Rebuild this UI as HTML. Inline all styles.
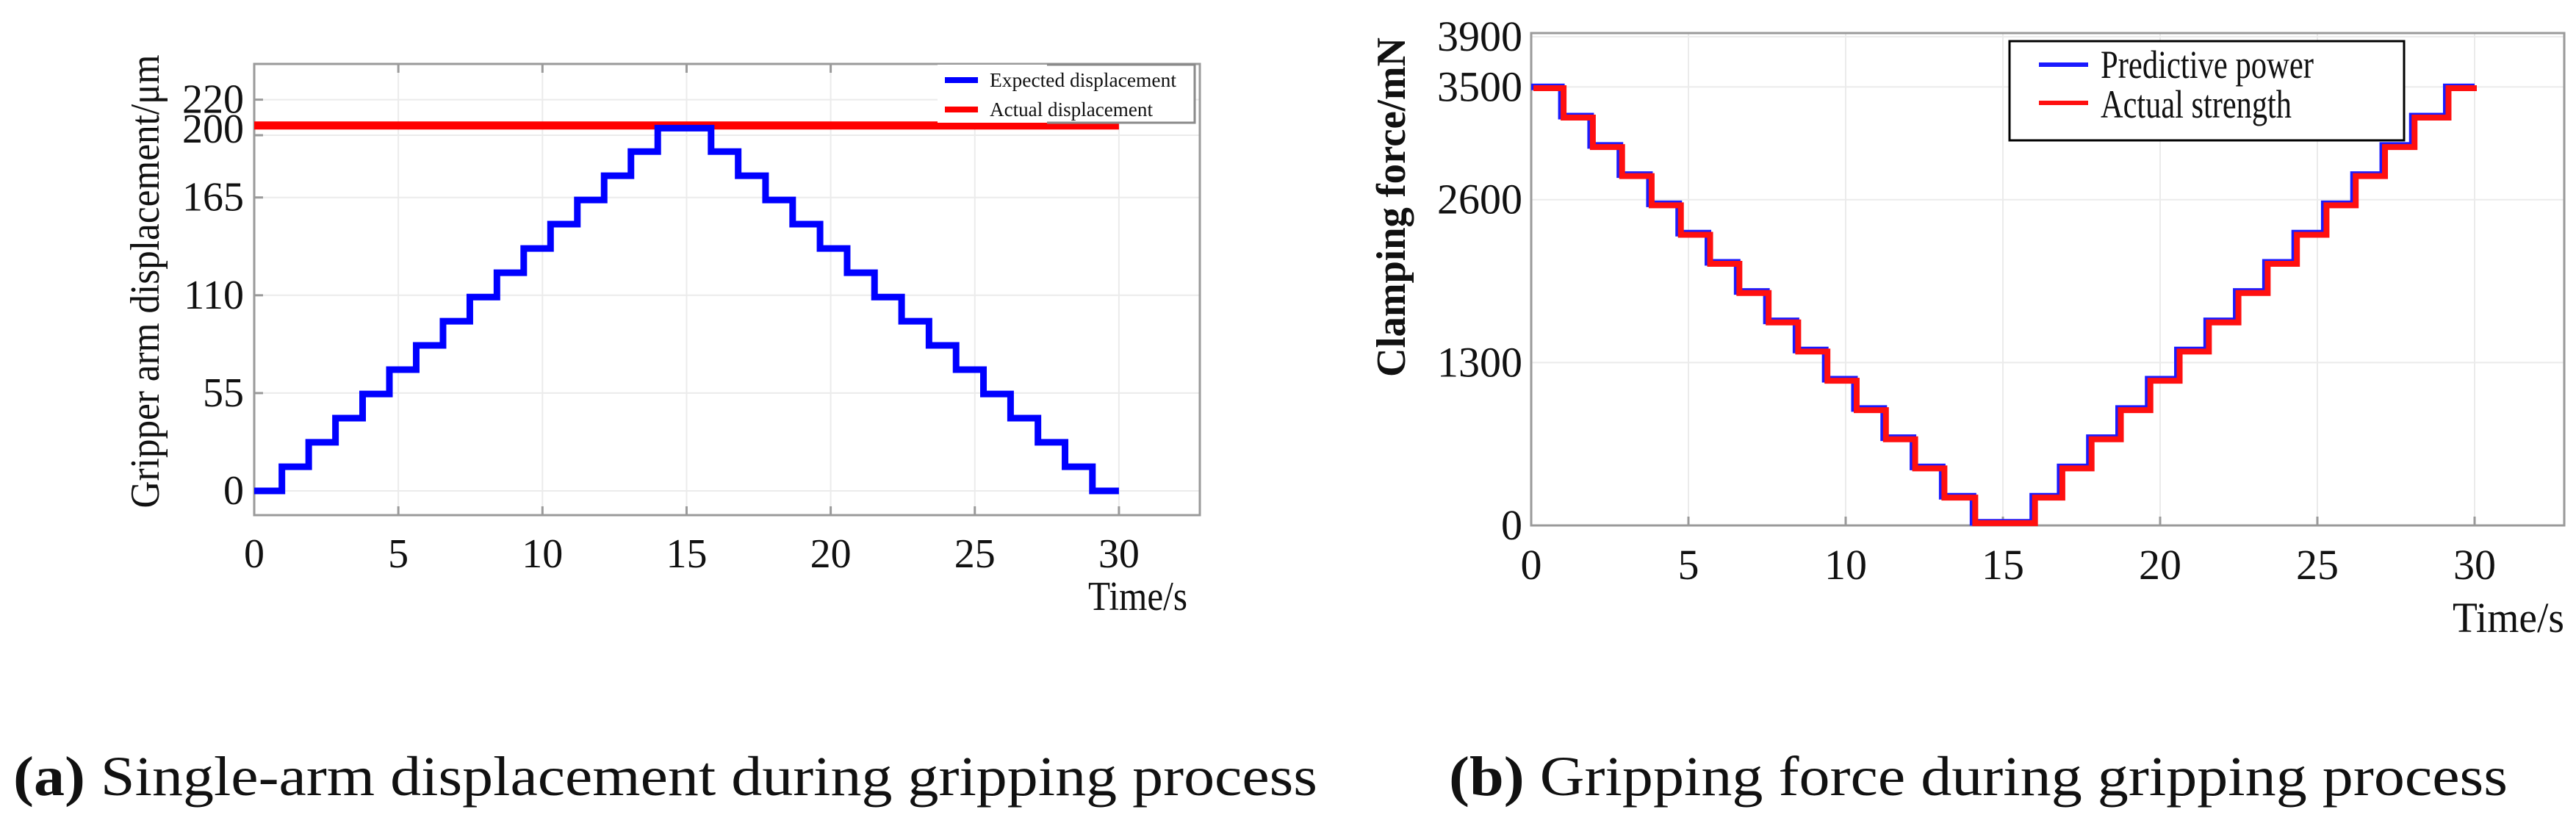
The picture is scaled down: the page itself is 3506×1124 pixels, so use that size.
<!DOCTYPE html>
<html><head><meta charset="utf-8"><style>
html,body{margin:0;padding:0;background:#fff;}
svg{display:block;}
text{font-family:"Liberation Serif",serif;fill:#111;}
</style></head><body>
<svg id="fig" width="3506" height="1124" viewBox="0 0 3506 1124" xmlns="http://www.w3.org/2000/svg">
<rect x="0" y="0" width="3506" height="1124" fill="#fff"/>
<g id="chartA"></g>
<g id="chartB"></g>
<text x="18" y="1082" font-size="76" textLength="1775" lengthAdjust="spacingAndGlyphs"><tspan font-weight="bold">(a)</tspan> Single-arm displacement during gripping process</text>
<text x="1972" y="1082" font-size="76" textLength="1441" lengthAdjust="spacingAndGlyphs"><tspan font-weight="bold">(b)</tspan> Gripping force during gripping process</text>
</svg>
<script>
// ---- data: chart (a) ----
const aTimes = [0,0.96,1.89,2.82,3.76,4.69,5.62,6.55,7.48,8.42,9.35,10.28,11.21,12.14,13.07,14.0,15.85,16.79,17.74,18.68,19.63,20.57,21.52,22.46,23.41,24.35,25.3,26.24,27.19,28.13,29.08,30];
const aExpected = [0,13.6,27.3,40.9,54.5,68.2,81.8,95.4,109,122.7,136.3,150,163.6,177.2,190.8,204,190.8,177.2,163.6,150,136.3,122.7,109,95.4,81.8,68.2,54.5,40.9,27.3,13.6,0];
const aActualTimes = [0,30];
const aActual = [205.5,205.5];
const aYTicks = [0,55,110,165,200,220];
const aXTicks = [0,5,10,15,20,25,30];
// ---- data: chart (b) ----
const bTimes = [0,0.96,1.89,2.82,3.76,4.69,5.62,6.55,7.48,8.42,9.35,10.28,11.21,12.14,13.07,14.05,15.95,16.82,17.75,18.68,19.62,20.55,21.48,22.42,23.35,24.28,25.22,26.15,27.08,28.02,29.1,30];
const bPredicted = [3500,3267,3033,2800,2567,2333,2100,1867,1633,1400,1167,933,700,467,233,25,233,467,700,933,1167,1400,1633,1867,2100,2333,2567,2800,3033,3267,3500];
const bActual = [3490,3255,3020,2788,2555,2320,2088,1855,1620,1388,1155,920,688,455,222,18,222,455,688,920,1155,1388,1620,1855,2088,2320,2555,2788,3020,3255,3490];
const bYTicks = [0,1300,2600,3500,3900];
const bXTicks = [0,5,10,15,20,25,30];

const NS = "http://www.w3.org/2000/svg";
function mk(parent, tag, attrs, txt){
  const e = document.createElementNS(NS, tag);
  for (const k in attrs) e.setAttribute(k, attrs[k]);
  if (txt !== undefined) e.textContent = txt;
  parent.appendChild(e);
  return e;
}
function stepPath(times, vals, X, Y){
  let d = "M" + X(times[0]) + "," + Y(vals[0]);
  for (let i = 0; i < vals.length; i++){
    d += " H" + X(times[i+1]);
    if (i+1 < vals.length) d += " V" + Y(vals[i+1]);
  }
  return d;
}

// ===== Chart A =====
(function(){
  const g = document.getElementById('chartA');
  const L=346, R=1633, T=87, B=701;
  const X = t => L + t*39.23;
  const Y = v => 668 - v*2.42;
  aXTicks.forEach(t=>{
    const l = mk(g,'line',{x1:X(t),x2:X(t),y1:T,y2:B,stroke:'#ebebeb','stroke-width':2});
    
    
  });
  aYTicks.forEach(v=>{
    const l = mk(g,'line',{x1:L,x2:R,y1:Y(v),y2:Y(v),stroke:'#ebebeb','stroke-width':2});
    
    
  });
  const fr = mk(g,'rect',{x:L,y:T,width:R-L,height:B-T,fill:'none',stroke:'#9a9a9a','stroke-width':3});
  
  
  aXTicks.forEach(t=>{
    mk(g,'line',{x1:X(t),x2:X(t),y1:B,y2:B-12,stroke:'#9a9a9a','stroke-width':3});
    mk(g,'line',{x1:X(t),x2:X(t),y1:T,y2:T+12,stroke:'#9a9a9a','stroke-width':3});
    const tx = mk(g,'text',{x:X(t),y:772,'font-size':56,'text-anchor':'middle'},String(t));
    
    
  });
  aYTicks.forEach(v=>{
    mk(g,'line',{x1:L,x2:L+12,y1:Y(v),y2:Y(v),stroke:'#9a9a9a','stroke-width':3});
    let yy = Y(v)+18;
    if (v===200) yy = 176+18;
    const tx = mk(g,'text',{x:332,y:yy,'font-size':56,'text-anchor':'end'},String(v));
    
    
  });
  const red = mk(g,'path',{d:stepPath(aActualTimes,[aActual[0]],X,Y),stroke:'#ff0000','stroke-width':11,fill:'none'});
  
  
  const blue = mk(g,'path',{d:stepPath(aTimes,aExpected,X,Y),stroke:'#0000ff','stroke-width':9,fill:'none','stroke-linejoin':'miter'});
  
  
  const lg = mk(g,'g',{});
  
  
  mk(lg,'rect',{x:1276,y:88,width:350,height:79,fill:'#fff',stroke:'none'});
  mk(lg,'polyline',{points:'1425,88 1626,88 1626,167 1425,167',fill:'none',stroke:'#8a8a8a','stroke-width':3});
  mk(lg,'line',{x1:1286,x2:1331,y1:109,y2:109,stroke:'#0000ff','stroke-width':8});
  mk(lg,'line',{x1:1286,x2:1331,y1:149,y2:149,stroke:'#ff0000','stroke-width':8});
  const e1 = mk(lg,'text',{x:1347,y:118,'font-size':27,textLength:254,lengthAdjust:'spacingAndGlyphs'},'Expected displacement');
  
  
  const e2 = mk(lg,'text',{x:1347,y:158,'font-size':27,textLength:222,lengthAdjust:'spacingAndGlyphs'},'Actual displacement');
  
  
  const yt = mk(g,'text',{x:0,y:0,'font-size':56,'text-anchor':'middle',transform:'translate(216,383) rotate(-90)',textLength:617,lengthAdjust:'spacingAndGlyphs'},'Gripper arm displacement/μm');
  
  
  const xt = mk(g,'text',{x:1481,y:830,'font-size':56,textLength:135,lengthAdjust:'spacingAndGlyphs'},'Time/s');
  
  
})();

// ===== Chart B =====
(function(){
  const g = document.getElementById('chartB');
  const L=2084, R=3490, T=45, B=715;
  const X = t => L + t*42.8;
  const Y = v => 715 - v*0.1705;
  bXTicks.forEach(t=>{
    const l = mk(g,'line',{x1:X(t),x2:X(t),y1:T,y2:B,stroke:'#ebebeb','stroke-width':2});
    
    
  });
  bYTicks.forEach(v=>{
    const l = mk(g,'line',{x1:L,x2:R,y1:Y(v),y2:Y(v),stroke:'#ebebeb','stroke-width':2});
    
    
  });
  const fr = mk(g,'rect',{x:L,y:T,width:R-L,height:B-T,fill:'none',stroke:'#9a9a9a','stroke-width':3});
  
  
  bXTicks.forEach(t=>{
    mk(g,'line',{x1:X(t),x2:X(t),y1:B,y2:B-12,stroke:'#9a9a9a','stroke-width':3});
    const tx = mk(g,'text',{x:X(t),y:788,'font-size':58,'text-anchor':'middle'},String(t));
    
    
  });
  bYTicks.forEach(v=>{
    let yy = Y(v)+19;
    const tx = mk(g,'text',{x:2072,y:yy,'font-size':58,'text-anchor':'end'},String(v));
    
    
  });
  const blue = mk(g,'path',{d:stepPath(bTimes,bPredicted,X,Y),stroke:'#1a1aff','stroke-width':9,fill:'none'});
  
  
  const X2 = t => X(t)+3;
  const red = mk(g,'path',{d:stepPath(bTimes,bActual,X2,Y),stroke:'#ff1010','stroke-width':8,fill:'none'});
  
  
  const lg = mk(g,'g',{});
  
  
  mk(lg,'rect',{x:2735,y:56,width:537,height:135,fill:'#fff',stroke:'#000','stroke-width':3});
  mk(lg,'line',{x1:2775,x2:2842,y1:88,y2:88,stroke:'#1a1aff','stroke-width':6});
  mk(lg,'line',{x1:2775,x2:2842,y1:140,y2:140,stroke:'#ff1010','stroke-width':6});
  const e1 = mk(lg,'text',{x:2859,y:106,'font-size':54,textLength:290,lengthAdjust:'spacingAndGlyphs'},'Predictive power');
  
  
  const e2 = mk(lg,'text',{x:2859,y:160,'font-size':54,textLength:260,lengthAdjust:'spacingAndGlyphs'},'Actual strength');
  
  
  const yt = mk(g,'text',{x:0,y:0,'font-size':56,'font-weight':'bold','text-anchor':'middle',transform:'translate(1912,282) rotate(-90)',textLength:462,lengthAdjust:'spacingAndGlyphs'},'Clamping force/mN');
  
  
  const xt = mk(g,'text',{x:3338,y:860,'font-size':58,textLength:152,lengthAdjust:'spacingAndGlyphs'},'Time/s');
  
  
})();
</script>
</body></html>
